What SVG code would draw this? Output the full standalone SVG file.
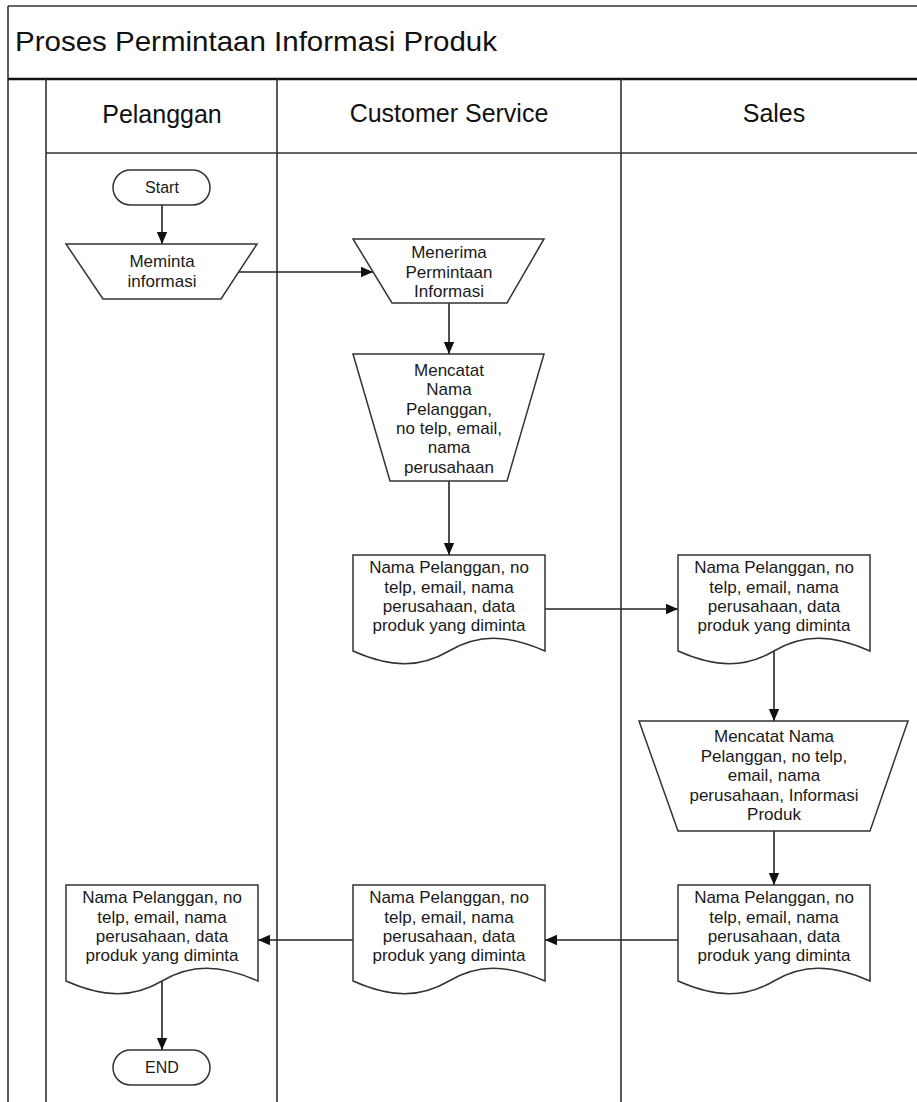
<svg xmlns="http://www.w3.org/2000/svg" width="917" height="1102" viewBox="0 0 917 1102">
<style>
.frame{stroke:#333;stroke-width:1.6;fill:none}
.thick{stroke:#111;stroke-width:2.6;fill:none}
.shape{fill:#fff;stroke:#333;stroke-width:1.5}
.conn{stroke:#222;stroke-width:1.6;fill:none;marker-end:url(#arr)}
.t{font-family:"Liberation Sans",Arial,sans-serif;font-size:17px;fill:#1a1a1a;text-anchor:middle}
.term{font-family:"Liberation Sans",Arial,sans-serif;font-size:16px;fill:#1a1a1a;text-anchor:middle}
.hdr{font-family:"Liberation Sans",Arial,sans-serif;font-size:25px;fill:#111;text-anchor:middle}
.title{font-family:"Liberation Sans",Arial,sans-serif;font-size:28px;fill:#111}
</style>
<defs>
<marker id="arr" markerUnits="userSpaceOnUse" markerWidth="14" markerHeight="14" viewBox="0 0 14 14" refX="13" refY="7" orient="auto">
<path d="M1,1.8 L13,7 L1,12.2 Z" fill="#111"/>
</marker>
</defs>
<rect width="917" height="1102" fill="#fff"/>
<g id="pool">
<line class="frame" x1="8" y1="6" x2="917" y2="6"/>
<line class="frame" x1="8" y1="6" x2="8" y2="1102"/>
<line class="thick" x1="8" y1="79" x2="917" y2="79"/>
<line class="frame" x1="46" y1="79" x2="46" y2="1102"/>
<line class="frame" x1="277" y1="79" x2="277" y2="1102"/>
<line class="frame" x1="621" y1="79" x2="621" y2="1102"/>
<line class="frame" x1="46" y1="153" x2="917" y2="153"/>
<text class="title" x="15" y="51" textLength="482" lengthAdjust="spacingAndGlyphs">Proses Permintaan Informasi Produk</text>
<text class="hdr" x="162" y="123">Pelanggan</text>
<text class="hdr" x="449" y="122">Customer Service</text>
<text class="hdr" x="774" y="122">Sales</text>
</g>
<g id="connectors">
<path class="conn" d="M162,205 V244"/>
<path class="conn" d="M239,272 H373"/>
<path class="conn" d="M449,303 V354"/>
<path class="conn" d="M449,481 V555"/>
<path class="conn" d="M545,609 H678"/>
<path class="conn" d="M774,651 V721"/>
<path class="conn" d="M774,831 V885"/>
<path class="conn" d="M678,940 H545"/>
<path class="conn" d="M353,940 H258"/>
<path class="conn" d="M162,981 V1050"/>
</g>
<g id="start">
<rect class="shape" x="113" y="170" width="97" height="35" rx="17.5"/>
<text class="term" x="162" y="193">Start</text>
</g>
<g id="meminta">
<path class="shape" d="M66,244 H257 L221,299 H103 Z"/>
<text class="t" x="162" y="267">Meminta</text>
<text class="t" x="162" y="287">informasi</text>
</g>
<g id="menerima">
<path class="shape" d="M353,239 H544 L507,303 H392 Z"/>
<text class="t" x="449" y="258">Menerima</text>
<text class="t" x="449" y="278">Permintaan</text>
<text class="t" x="449" y="297">Informasi</text>
</g>
<g id="mencatat-cs">
<path class="shape" d="M353,354 H544 L507,481 H390 Z"/>
<text class="t" x="449" y="376">Mencatat</text>
<text class="t" x="449" y="395">Nama</text>
<text class="t" x="449" y="414.5">Pelanggan,</text>
<text class="t" x="449" y="434">no telp, email,</text>
<text class="t" x="449" y="453">nama</text>
<text class="t" x="449" y="472.5">perusahaan</text>
</g>
<g id="doc-cs-1">
<path class="shape" d="M353,555 H545 V651 C506.6,634 477.8,634 449,651 C420.2,668 391.4,668 353,651 Z"/>
<text class="t" x="449" y="573">Nama Pelanggan, no</text>
<text class="t" x="449" y="592.5">telp, email, nama</text>
<text class="t" x="449" y="612">perusahaan, data</text>
<text class="t" x="449" y="631">produk yang diminta</text>
</g>
<g id="doc-sales-1">
<path class="shape" d="M678,555 H870 V651 C831.6,634 802.8,634 774,651 C745.2,668 716.4,668 678,651 Z"/>
<text class="t" x="774" y="573">Nama Pelanggan, no</text>
<text class="t" x="774" y="592.5">telp, email, nama</text>
<text class="t" x="774" y="612">perusahaan, data</text>
<text class="t" x="774" y="631">produk yang diminta</text>
</g>
<g id="mencatat-sales">
<path class="shape" d="M639,721 H908 L870,831 H678 Z"/>
<text class="t" x="774" y="742">Mencatat Nama</text>
<text class="t" x="774" y="761.5">Pelanggan, no telp,</text>
<text class="t" x="774" y="781">email, nama</text>
<text class="t" x="774" y="800.5">perusahaan, Informasi</text>
<text class="t" x="774" y="820">Produk</text>
</g>
<g id="doc-sales-2">
<path class="shape" d="M678,885 H870 V981 C831.6,964 802.8,964 774,981 C745.2,998 716.4,998 678,981 Z"/>
<text class="t" x="774" y="903">Nama Pelanggan, no</text>
<text class="t" x="774" y="922.5">telp, email, nama</text>
<text class="t" x="774" y="942">perusahaan, data</text>
<text class="t" x="774" y="961">produk yang diminta</text>
</g>
<g id="doc-cs-2">
<path class="shape" d="M353,885 H545 V981 C506.6,964 477.8,964 449,981 C420.2,998 391.4,998 353,981 Z"/>
<text class="t" x="449" y="903">Nama Pelanggan, no</text>
<text class="t" x="449" y="922.5">telp, email, nama</text>
<text class="t" x="449" y="942">perusahaan, data</text>
<text class="t" x="449" y="961">produk yang diminta</text>
</g>
<g id="doc-pelanggan">
<path class="shape" d="M66,885 H258 V981 C219.6,964 190.8,964 162,981 C133.2,998 104.4,998 66,981 Z"/>
<text class="t" x="162" y="903">Nama Pelanggan, no</text>
<text class="t" x="162" y="922.5">telp, email, nama</text>
<text class="t" x="162" y="942">perusahaan, data</text>
<text class="t" x="162" y="961">produk yang diminta</text>
</g>
<g id="end">
<rect class="shape" x="113" y="1050" width="97" height="35" rx="17.5"/>
<text class="term" x="162" y="1073">END</text>
</g>
</svg>
